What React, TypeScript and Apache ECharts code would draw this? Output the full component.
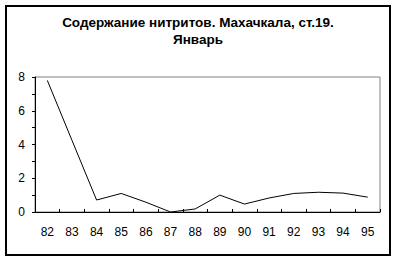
import React, { useEffect, useRef } from "react";
import * as echarts from "echarts";

const titleLines = ["Содержание нитритов. Махачкала, ст.19.", "Январь"];
const years = ["82", "83", "84", "85", "86", "87", "88", "89", "90", "91", "92", "93", "94", "95"];
const nitrites = [7.8, 4.25, 0.71, 1.1, 0.58, 0.0, 0.18, 1.0, 0.47, 0.83, 1.1, 1.17, 1.12, 0.88];
const yMin = 0;
const yMax = 8;
const yStep = 1;

export default function App() {
  const ref = useRef<HTMLDivElement>(null);
  useEffect(() => {
    document.body.style.margin = "0";
    if (!ref.current) return;
    const chart = echarts.init(ref.current, null, { renderer: "svg" });
    const font = "Arial, 'Liberation Sans', sans-serif";
    chart.setOption({
      animation: false,
      backgroundColor: "#ffffff",
      textStyle: { fontFamily: font },
      title: {
        text: titleLines.join("\n"),
        left: "center",
        top: 14,
        padding: 0,
        textStyle: {
          fontFamily: font,
          fontSize: 13.5,
          fontWeight: "bold",
          color: "#000000",
          lineHeight: 17,
        },
      },
      graphic: [
        {
          type: "rect",
          shape: { x: 6, y: 6, width: 384, height: 249 },
          style: { fill: "none", stroke: "#000000", lineWidth: 2 },
          silent: true,
        },
      ],
      grid: {
        left: 35,
        right: 16,
        top: 77,
        bottom: 48,
        show: true,
        borderColor: "#808080",
        borderWidth: 1,
        backgroundColor: "transparent",
      },
      xAxis: {
        type: "category",
        data: years,
        boundaryGap: true,
        axisLine: { show: true, lineStyle: { color: "#000000", width: 1 } },
        axisTick: { show: true, inside: true, length: 3, lineStyle: { color: "#000000" } },
        axisLabel: { color: "#000000", fontSize: 12, margin: 14, fontFamily: font },
        splitLine: { show: false },
      },
      yAxis: {
        type: "value",
        min: yMin,
        max: yMax,
        interval: yStep,
        axisLine: { show: true, lineStyle: { color: "#000000", width: 1 } },
        axisTick: { show: true, inside: false, length: 3, lineStyle: { color: "#000000" } },
        axisLabel: {
          color: "#000000",
          fontSize: 12,
          margin: 10,
          fontFamily: font,
          formatter: (v: number) => (v % 2 === 0 ? String(v) : ""),
        },
        splitLine: { show: false },
      },
      series: [
        {
          type: "line",
          data: nitrites,
          symbol: "none",
          smooth: false,
          lineStyle: { color: "#000000", width: 1 },
        },
      ],
    });
    return () => chart.dispose();
  }, []);
  return <div ref={ref} style={{ width: 396, height: 260 }} />;
}
